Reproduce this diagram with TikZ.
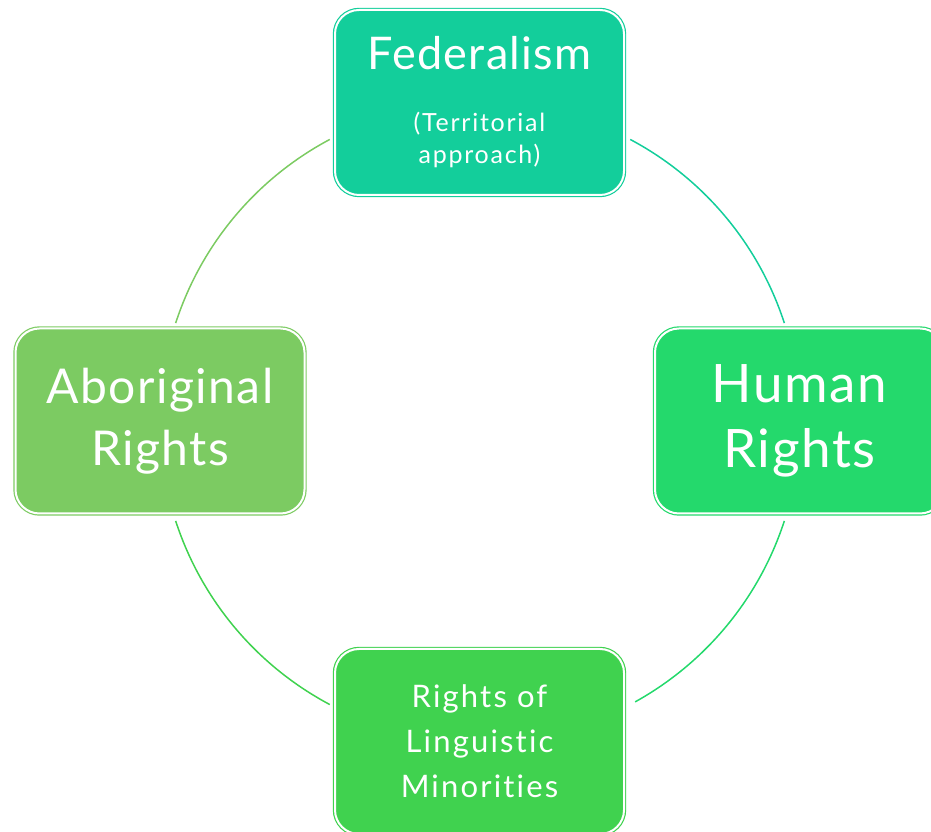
\documentclass[tikz,border=0pt]{standalone}
\usepackage{fontspec}
\setmainfont{Lato}[Ligatures=CommonOff, LetterSpace=3]
\newfontfamily\smallfont{Lato}[Ligatures=CommonOff, LetterSpace=7]
\usepackage{tikz}
\usetikzlibrary{shapes,arrows,calc}
\definecolor{fedgreen}{HTML}{13CE9B}
\definecolor{humgreen}{HTML}{24D96C}
\definecolor{abogreen}{HTML}{7CCB62}
\definecolor{lingreen}{HTML}{40D24F}
\tikzstyle{box} = [rectangle, rounded corners=24pt, minimum width=289pt, minimum height=185pt, inner sep=0pt, align=center, text=white, double=white, double distance=2pt, line width=1.2pt]
\tikzstyle{line} = [draw, line width=1.5pt]

\begin{document}
\begin{tikzpicture}[x=1pt, y=1pt]
      \useasboundingbox (0,0) rectangle (931,832);
      \coordinate (hub) at (480,410);

      \draw[line, fedgreen] ([shift={(62:320)}]hub) arc (62:18:320);
      \draw[line, humgreen] ([shift={(-18:320)}]hub) arc (-18:-61:320);
      \draw[line, lingreen] ([shift={(-118:320)}]hub) arc (-118:-162:320);
      \draw[line, abogreen] ([shift={(162:320)}]hub) arc (162:118:320);

      \node (fed) at (479.5,729.5) [box, draw=fedgreen, fill=fedgreen, font=\smallfont\fontsize{25}{32}\selectfont]
            {{\normalfont\fontsize{45}{50}\selectfont Federalism}\\[30pt]
             (Territorial\\approach)};
      \node (hum) at (799.5,411) [box, draw=humgreen, fill=humgreen, font=\fontsize{53}{65}\selectfont]
            {Human\\Rights};
      \node (abo) at (160,411) [box, draw=abogreen, fill=abogreen, font=\fontsize{48}{62}\selectfont]
            {Aboriginal\\Rights};
      \node (lin) at (479.5,90.5) [box, draw=lingreen, fill=lingreen, font=\smallfont\fontsize{31}{45}\selectfont]
            {Rights of\\Linguistic\\Minorities};
    \end{tikzpicture}
\end{document}
